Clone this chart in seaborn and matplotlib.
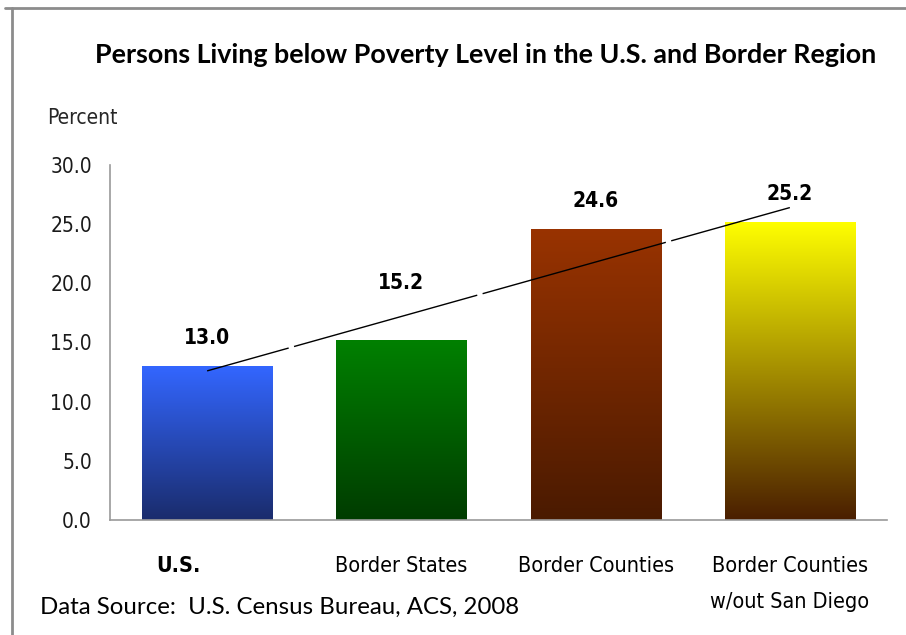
import numpy as np
import pandas as pd
import matplotlib
matplotlib.use("Agg")
import matplotlib.pyplot as plt
import matplotlib.transforms as mtransforms
from matplotlib.colors import LinearSegmentedColormap
from matplotlib.lines import Line2D
import seaborn as sns

# data
categories = ["U.S.", "Border States", "Border Counties", "Border Counties\nw/out San Diego"]
poverty_pct = [13.0, 15.2, 24.6, 25.2]
value_labels = ["13.0", "15.2", "24.6", "25.2"]
yticks = [0, 5, 10, 15, 20, 25, 30]

# gradient colours per bar, top -> bottom
bar_top = ["#3366FF", "#008000", "#993300", "#FFFF00"]
bar_bottom = ["#1A2C6C", "#003C00", "#4A1A00", "#4A1E00"]

df = pd.DataFrame({"cat": categories, "pct": poverty_pct})

sns.set_style("white")
plt.rcParams["font.family"] = ["DejaVu Sans", "Lato"]
plt.rcParams["font.stretch"] = "condensed"

fig = plt.figure(figsize=(9.06, 6.35), dpi=100)
ax = fig.add_axes([0.1214, 0.1811, 0.8576, 0.5591])

sns.barplot(data=df, x="cat", y="pct", color="white", width=0.67, ax=ax,
            saturation=1, edgecolor="none")

# gradient fill clipped to each bar
for i, p in enumerate(ax.patches):
    x0, y0 = p.get_x(), p.get_y()
    w, h = p.get_width(), p.get_height()
    cmap = LinearSegmentedColormap.from_list("g%d" % i, [bar_bottom[i], bar_top[i]])
    grad = np.linspace(0, 1, 256).reshape(-1, 1)
    im = ax.imshow(grad, cmap=cmap, aspect="auto", origin="lower",
                   extent=[x0, x0 + w, y0, y0 + h], zorder=2)
    im.set_clip_path(p)
    p.set_facecolor("none")

# linear trend line (excel style, with small breaks)
xs = np.arange(len(poverty_pct))
k, b = np.polyfit(xs, poverty_pct, 1)
ax.plot([xs[0], xs[-1]], [k * xs[0] + b, k * xs[-1] + b], color="black", lw=1, zorder=3,
        linestyle=(76, (137, 4)))

# value labels
for i, v in enumerate(poverty_pct):
    off = 41 if i == 1 else 20
    ax.annotate(value_labels[i], (i, v), xytext=(0, off), textcoords="offset points",
                ha="center", va="center", fontsize=15, fontweight="bold",
                fontstretch="condensed", color="black")

ax.set_xlim(-0.5, len(categories) - 0.5)
ax.set_ylim(0, 30)
ax.set_yticks(yticks)
ax.set_yticklabels(["%.1f" % t for t in yticks], fontstretch="condensed")
ax.set_xticks(np.arange(len(categories) + 1) - 0.5, minor=False)
ax.set_xticklabels([])
ax.set_xlabel("")
ax.set_ylabel("")

for s in ["top", "right"]:
    ax.spines[s].set_visible(False)
for s in ["left", "bottom"]:
    ax.spines[s].set_color("#9A9A9A")
    ax.spines[s].set_linewidth(1.2)
ax.tick_params(axis="y", length=5, color="#9A9A9A", labelsize=15, pad=8, labelcolor="#1A1A1A")
ax.tick_params(axis="x", length=6, color="#9A9A9A", direction="out")

# category labels under bars
for i, c in enumerate(categories):
    dx = -29 if i == 0 else 0
    ax.text(i, 0, c, ha="center", va="top", fontsize=15.5,
            fontweight="bold" if i == 0 else "normal", fontstretch="condensed",
            linespacing=2.0, color="black",
            transform=ax.get_xaxis_transform() + mtransforms.ScaledTranslation(dx / 100, -36 / 100, fig.dpi_scale_trans))

fig.text(0.536, 0.913, "Persons Living below Poverty Level in the U.S. and Border Region",
         ha="center", va="center", fontsize=19.4, fontweight="bold", family=["Lato", "DejaVu Sans"],
         color="black")
fig.text(47 / 906, 1 - 118 / 635, "Percent", ha="left", va="center", fontsize=15, fontstretch="condensed")
fig.text(40 / 906, 1 - 607 / 635, "Data Source:  U.S. Census Bureau, ACS, 2008",
         ha="left", va="center", fontsize=17.3, family=["Lato", "DejaVu Sans"], color="black")

# outer frame (top and left edges visible)
fig.add_artist(Line2D([12 / 906, 12 / 906], [0, 1 - 8 / 635], transform=fig.transFigure,
                      color="#8C8C8C", lw=2))
fig.add_artist(Line2D([5 / 906, 1], [1 - 8 / 635, 1 - 8 / 635], transform=fig.transFigure,
                      color="#8C8C8C", lw=2))

fig.savefig("out.png", dpi=100)
